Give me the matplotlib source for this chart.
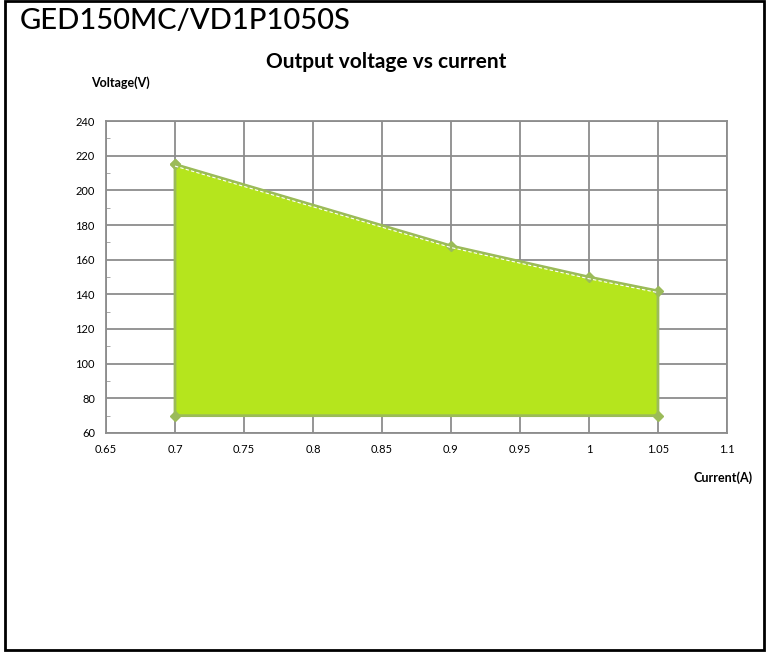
import matplotlib.pyplot as plt
from matplotlib.patches import Rectangle

# outline of the operating area (Current A, Voltage V)
current = [0.7, 0.9, 1.0, 1.05, 1.05, 0.7, 0.7]
voltage = [215, 168, 150, 142, 70, 70, 215]

x_ticks = [0.65, 0.7, 0.75, 0.8, 0.85, 0.9, 0.95, 1, 1.05, 1.1]
x_labels = ['0.65', '0.7', '0.75', '0.8', '0.85', '0.9', '0.95', '1', '1.05', '1.1']
y_ticks = [60, 80, 100, 120, 140, 160, 180, 200, 220, 240]

plt.rcParams['font.family'] = ['Lato', 'DejaVu Sans']

fig = plt.figure(figsize=(7.67, 6.52), dpi=100)
ax = fig.add_axes([0.1382, 0.3359, 0.8096, 0.4785])

ax.fill(current, voltage, color='#B5E51D', zorder=2)
ax.plot(current, voltage, color='#9BBB59', lw=2.0, marker='D', ms=5, zorder=3)
ax.plot(current[:4], [v - 1 for v in voltage[:4]], color='white', lw=0.8,
        ls=(0, (3, 2)), zorder=4)

ax.set_xlim(0.65, 1.1)
ax.set_ylim(60, 240)
ax.set_xticks(x_ticks)
ax.set_xticklabels(x_labels)
ax.set_yticks(y_ticks)
ax.set_yticks(range(70, 240, 20), minor=True)
ax.tick_params(axis='both', which='major', length=0, labelsize=8, pad=8)
ax.tick_params(axis='y', which='minor', direction='in', length=3, color='#999999')
ax.tick_params(axis='x', which='minor', length=0)
ax.grid(True, color='#8c8c8c', lw=1.3, zorder=1)
ax.set_axisbelow(True)
for s in ax.spines.values():
    s.set_color('#8c8c8c')
    s.set_linewidth(1.3)

fig.text(0.026, 0.968, 'GED150MC/VD1P1050S', fontsize=21, fontweight='medium',
         va='center', ha='left')
fig.text(0.503, 0.905, 'Output voltage vs current', fontsize=15, fontweight='bold',
         ha='center', va='center')
fig.text(0.157, 0.873, 'Voltage(V)', fontsize=9, fontweight='bold', ha='center', va='center')
fig.text(0.943, 0.268, 'Current(A)', fontsize=9, fontweight='bold', ha='center', va='center')

fig.patches.append(Rectangle((0.006, 0.003), 0.99, 0.995, transform=fig.transFigure,
                             fill=False, edgecolor='black', lw=2))

fig.savefig('out.png', dpi=100)
